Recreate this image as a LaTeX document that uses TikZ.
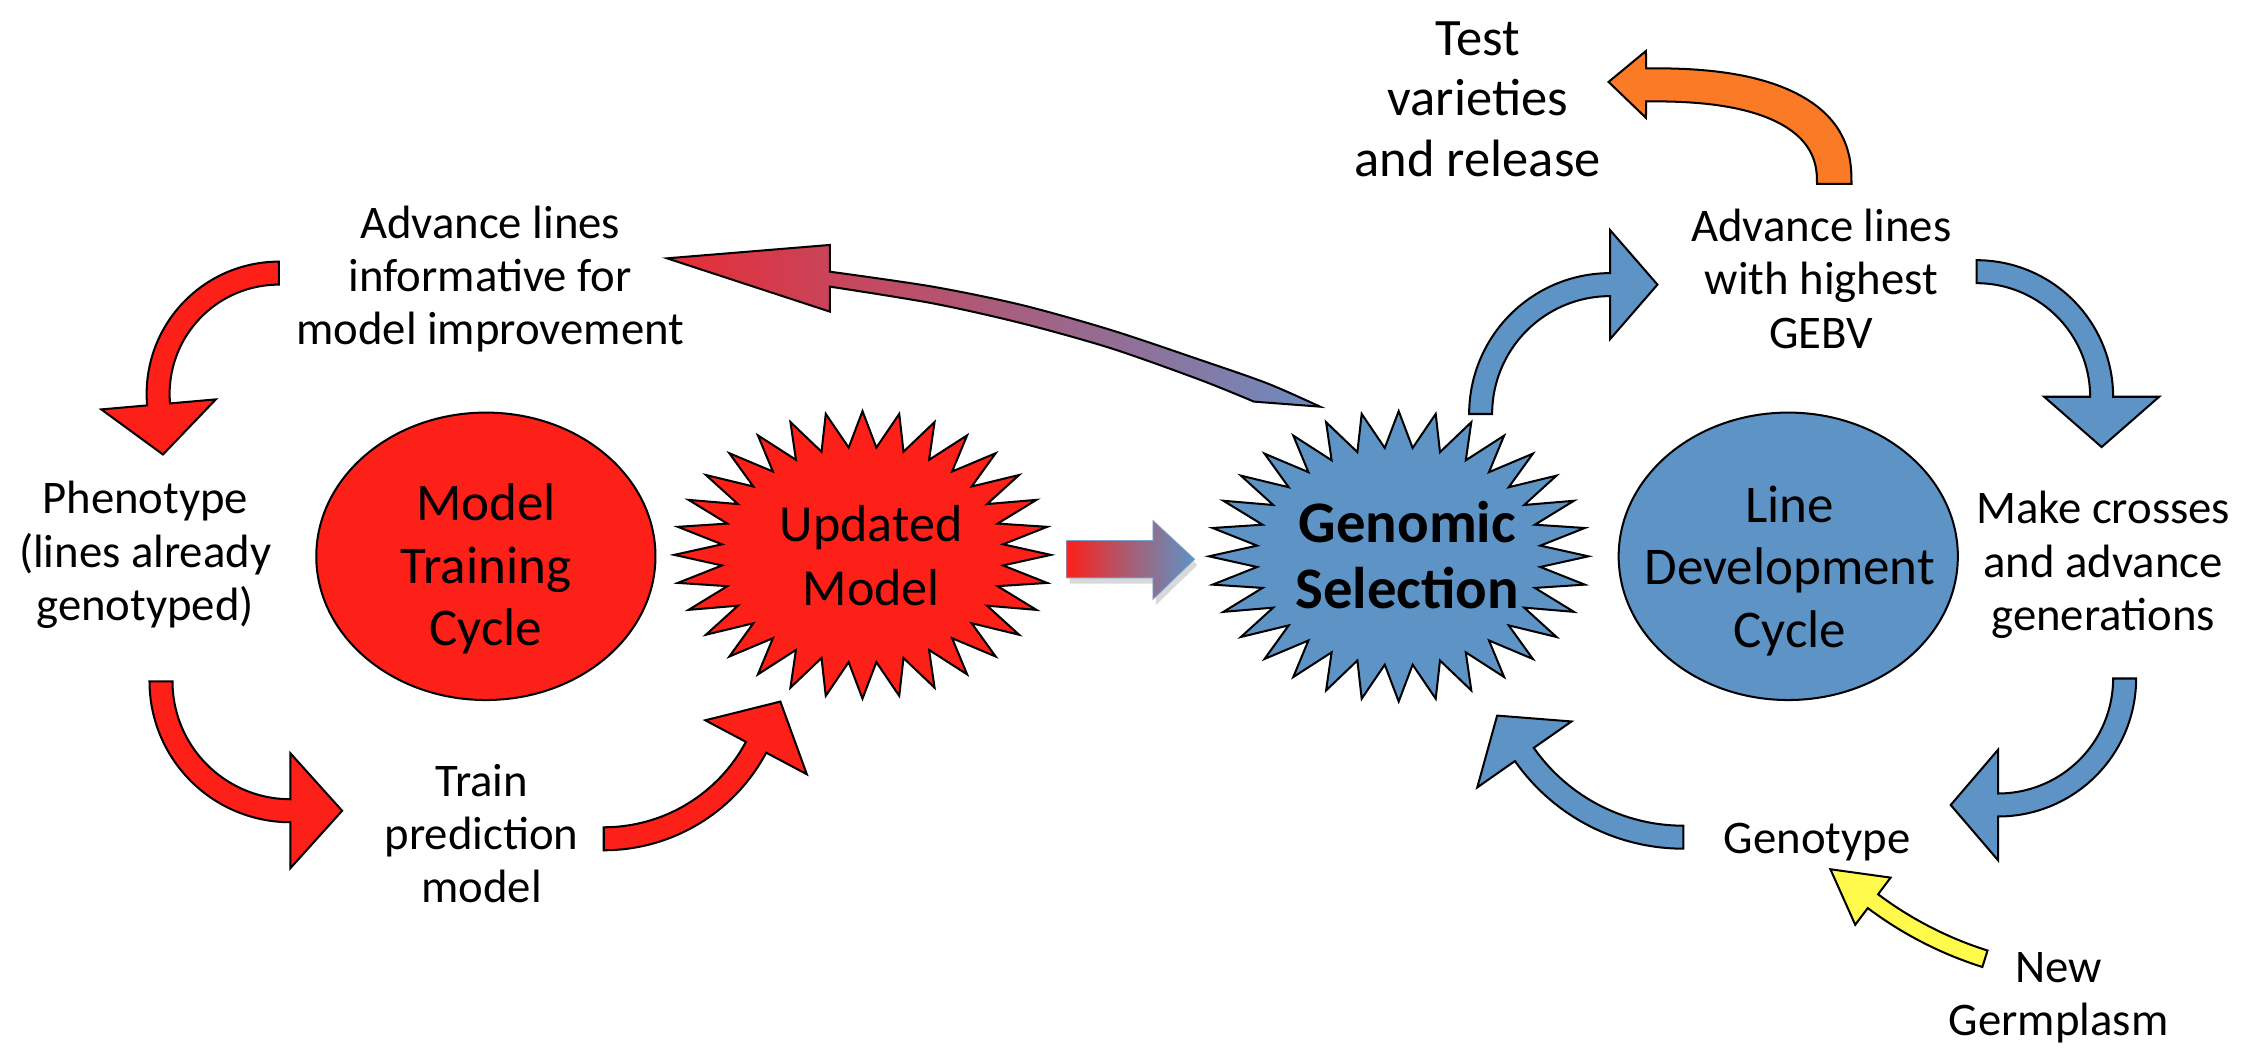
\documentclass[tikz,border=0pt]{standalone}
\usepackage{fontspec}
\setmainfont{Carlito}
\usetikzlibrary{shapes.geometric}
\definecolor{myred}{RGB}{252,32,24}
\definecolor{myblue}{RGB}{94,147,197}
\definecolor{myorange}{RGB}{250,122,38}
\definecolor{myyellow}{RGB}{255,250,75}
\definecolor{gradred}{RGB}{232,44,54}
\definecolor{gradblue}{RGB}{108,140,192}
\newcommand\aw{8}
\newcommand\ahw{40}
\newcommand\ahl{35}
% curved block arrow along a circle: #1 style, #2 cx, #3 cy, #4 R, #5 tail angle, #6 head angle
\newcommand\arcarrow[6]{%
  \pgfmathsetmacro\sgn{sign(#6-#5)}%
  \pgfmathsetmacro\tipx{#2+#4*cos(#6)-\sgn*\ahl*sin(#6)}%
  \pgfmathsetmacro\tipy{#3+#4*sin(#6)+\sgn*\ahl*cos(#6)}%
  \path[#1] plot[domain=#5:#6, samples=50] ({#2+(#4+\aw)*cos(\x)}, {#3+(#4+\aw)*sin(\x)})
    -- ({#2+(#4+\ahw)*cos(#6)}, {#3+(#4+\ahw)*sin(#6)})
    -- (\tipx, \tipy)
    -- ({#2+(#4-\ahw)*cos(#6)}, {#3+(#4-\ahw)*sin(#6)})
    -- plot[domain=#6:#5, samples=50] ({#2+(#4-\aw)*cos(\x)}, {#3+(#4-\aw)*sin(\x)})
    -- cycle;}
% 32-point star: #1 style, #2 cx, #3 cy, #4 rx, #5 ry
\newcommand\starburst[5]{%
  \path[#1] plot[samples at={0,...,63}, variable=\k]
    ({#2+#4*(1-0.25*mod(\k,2))*cos(90+5.625*\k)}, {#3+#5*(1-0.25*mod(\k,2))*sin(90+5.625*\k)}) -- cycle;}
\begin{document}
\begin{tikzpicture}[x=0.02cm, y=-0.02cm,
  outl/.style={draw=black, line width=0.8pt, line join=miter},
  lbl/.style={align=center, inner sep=0pt, font=\fontsize{18.5}{21.05}\selectfont},
  testtxt/.style={align=center, inner sep=0pt, font=\fontsize{20.8}{23.9}\selectfont},
  cyctxt/.style={align=center, inner sep=0pt, font=\fontsize{21}{24.75}\selectfont},
  updtxt/.style={align=center, inner sep=0pt, font=\fontsize{20.6}{25.6}\selectfont},
  gentxt/.style={align=center, inner sep=0pt, font=\fontsize{23.3}{26.2}\selectfont\bfseries},
  cycshape/.style={ellipse, outl, minimum width=4.72cm, minimum height=4cm, inner sep=0pt},
]
\useasboundingbox (0,0) rectangle (1568,729);

% cycle ellipses
\node[cycshape, fill=myred] (mtcshape) at (338,387) {};
\node[cycshape, fill=myblue] (ldcshape) at (1244,387) {};

% starbursts
\starburst{outl, fill=myred}{600}{386}{131}{100}
\starburst{outl, fill=myblue}{973}{387}{132}{101}

% red cycle arrows
\renewcommand\aw{8}\renewcommand\ahw{40}\renewcommand\ahl{35}
\arcarrow{outl, fill=myred}{194}{274}{84}{270}{175}
\renewcommand\ahl{36}
\arcarrow{outl, fill=myred}{202}{474}{90}{180}{90}
\arcarrow{outl, fill=myred}{420}{463.5}{120}{90}{28}

% blue cycle arrows
\renewcommand\ahw{38}\renewcommand\ahl{33}
\arcarrow{outl, fill=myblue}{1120}{288}{90}{180}{270}
\renewcommand\ahw{40}\renewcommand\ahl{35}
\arcarrow{outl, fill=myblue}{1375}{276}{87}{270}{360}
\renewcommand\ahw{38.5}\renewcommand\ahl{33}
\arcarrow{outl, fill=myblue}{1390}{472}{88}{0}{90}
\renewcommand\ahw{40}
\arcarrow{outl, fill=myblue}{1171}{447.4}{135}{90}{145}

% yellow arrow
\renewcommand\aw{6}\renewcommand\ahw{20.5}\renewcommand\ahl{37}
\arcarrow{outl, fill=myyellow}{1459}{419}{260}{107.5}{126.9}

% orange arrow
\path[outl, fill=myorange]
  plot[domain=0.01:89.99, samples=50] ({1145+143*cos(\x)^0.8}, {128-80.5*sin(\x)^0.8})
  -- (1145,35.5) -- (1119,57) -- (1145,82)
  -- plot[domain=89.99:0.01, samples=50] ({1145+119*cos(\x)^0.8}, {128-57.5*sin(\x)^0.8})
  -- cycle;

% long gradient arrow
\shadedraw[outl, left color=gradred, right color=gradblue]
  plot[smooth] coordinates {(577.3,189) (648.7,199.4) (710.8,212.2) (772.9,229.6) (835,250.4) (881.6,266.7) (918.3,282.9)}
  -- (872.3,279.4)
  -- plot[smooth] coordinates {(872.3,279.4) (835,264.3) (772.9,242.3) (710.8,224.9) (648.7,211) (577.3,199.4)}
  -- (577.3,216.8) -- (464,179.7) -- (577.3,170.4) -- cycle;

% straight gradient arrow with soft shadow
\fill[black, opacity=0.15] (744,380) -- (804,380) -- (804,366) -- (833,393) -- (804,421) -- (804,406) -- (744,406) -- cycle;
\shadedraw[draw=myblue!85, line width=0.3pt, left color=myred, right color=myblue, middle color=myred!45!myblue]
  (742,376) -- (802,376) -- (802,362) -- (831,389) -- (802,417) -- (802,402) -- (742,402) -- cycle;

% texts
\node[lbl] (advinf) at (341,194) {Advance lines\\informative for\\model improvement};
\node[lbl] (pheno) at (101,386) {Phenotype\\(lines already\\genotyped)};
\node[lbl] (train) at (335,580) {Train\\prediction\\model};
\node[cyctxt] (mtc) at (338,396) {Model\\Training\\Cycle};
\node[updtxt] (upd) at (606,386.5) {Updated\\Model};
\node[gentxt] (gen) at (979,386) {Genomic\\Selection};
\node[cyctxt] (ldc) at (1245,397) {Line\\Development\\Cycle};
\node[lbl] (advgebv) at (1267,194) {Advance lines\\with highest\\GEBV};
\node[testtxt] (test) at (1028,69) {Test\\varieties\\and release};
\node[lbl] (cross) at (1463,393) {Make crosses\\and advance\\generations};
\node[lbl] (geno) at (1264,586) {Genotype};
\node[lbl] (newg) at (1432,694) {New\\Germplasm};
\end{tikzpicture}
\end{document}
